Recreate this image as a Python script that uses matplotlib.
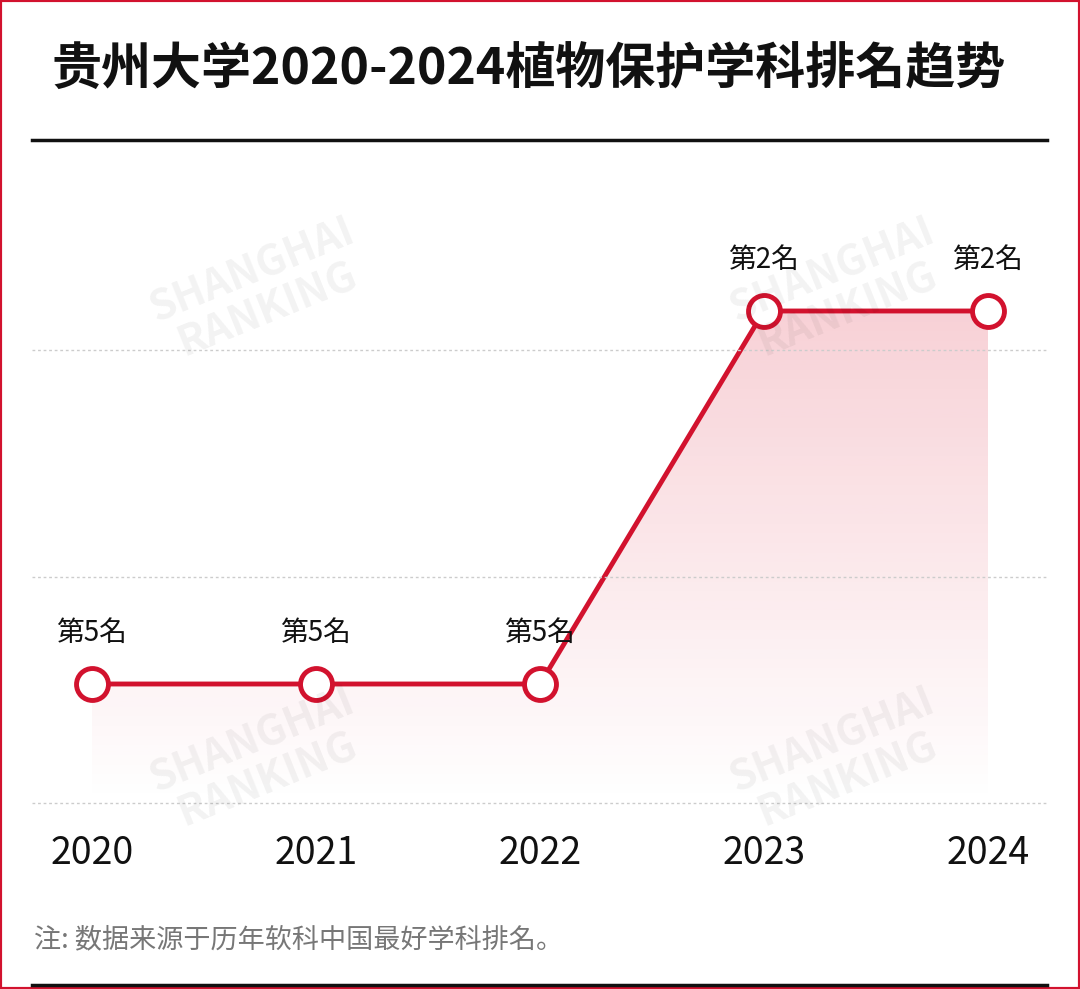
import numpy as np
import matplotlib.pyplot as plt
from matplotlib import font_manager
from matplotlib.patches import Polygon, Rectangle
from matplotlib.lines import Line2D

cjk = [f.name for f in font_manager.fontManager.ttflist if "CJK" in f.name]
sc = [n for n in cjk if "SC" in n]
plt.rcParams["font.family"] = (sc or cjk)[:1] + ["DejaVu Sans"]

YEARS = ["2020", "2021", "2022", "2023", "2024"]
RANKS = [5, 5, 5, 2, 2]
LABELS = ["第5名", "第5名", "第5名", "第2名", "第2名"]
TITLE = "贵州大学2020-2024植物保护学科排名趋势"
NOTE = "注: 数据来源于历年软科中国最好学科排名。"

RED = "#d2122e"
W, H = 1080, 989

fig = plt.figure(figsize=(W / 100, H / 100), dpi=100)

# axes in pixel layout: x 32..1047, y 140..804 (top..bottom)
ax = fig.add_axes([32 / W, 1 - 804 / H, (1047 - 32) / W, (804 - 140) / H])
px_per_rank = (684 - 311) / 3
ybot = 5 + (804 - 684) / px_per_rank
ytop = 2 - (311 - 140) / px_per_rank
ax.set_ylim(ybot, ytop)
x = np.arange(len(YEARS))
ax.set_xlim(-(92 - 32) / 224, 4 + (1047 - 988) / 224)
ax.axis("off")

for gy in [2 + (350 - 311) / px_per_rank, 5 - (684 - 577) / px_per_rank, ybot - 0.005]:
    ax.axhline(gy, color="#cccccc", lw=1, ls=(0, (2, 2)), zorder=5, clip_on=False)

# gradient fill under the line
grad = np.linspace(0.2, 0.0, 256).reshape(-1, 1)
img = np.ones((256, 1, 4))
img[..., 0] = 0.86
img[..., 1] = 0.1
img[..., 2] = 0.2
img[..., 3] = grad
im = ax.imshow(img, extent=[x[0], x[-1], ybot, min(RANKS)], aspect="auto",
               origin="upper", zorder=2)
poly = Polygon(list(zip(x, RANKS)) + [(x[-1], ybot), (x[0], ybot)],
               closed=True, transform=ax.transData)
im.set_clip_path(poly)

ax.plot(x, RANKS, color=RED, lw=3.5, zorder=3, marker="o", ms=23,
        mfc="white", mec=RED, mew=3.5)
for xi, r, lab in zip(x, RANKS, LABELS):
    ax.annotate(lab, (xi, r), xytext=(0, 26), textcoords="offset points",
                ha="center", va="bottom", fontsize=20, color="#111111", zorder=4)

for xi, yr in zip([92, 316, 540, 764, 988], YEARS):
    fig.text(xi / W, 1 - 853 / H, yr, ha="center", va="center", fontsize=27,
             color="#111111")

# watermarks
for wx, wy in [(260, 290), (260, 760), (840, 290), (840, 760)]:
    fig.text(wx / W, 1 - wy / H, "SHANGHAI\nRANKING", ha="center", va="center",
             fontsize=30, fontweight="bold", color="#000000", alpha=0.05,
             rotation=22, linespacing=1.0)

fig.text(52 / W, 1 - 70 / H, TITLE, ha="left", va="center", fontsize=36,
         fontweight="bold", color="#111111")
fig.add_artist(Line2D([32 / W, 1047 / W], [1 - 140 / H] * 2, color="#111111", lw=2.5))
fig.add_artist(Line2D([32 / W, 1047 / W], [1 - 985 / H] * 2, color="#111111", lw=2.5))
fig.text(34 / W, 1 - 940 / H, NOTE, ha="left", va="center", fontsize=19.5,
         color="#777777")
fig.add_artist(Rectangle((0, 0), 1, 1, transform=fig.transFigure, fill=False,
                         ec=RED, lw=3))

fig.savefig("out.png", dpi=100)
